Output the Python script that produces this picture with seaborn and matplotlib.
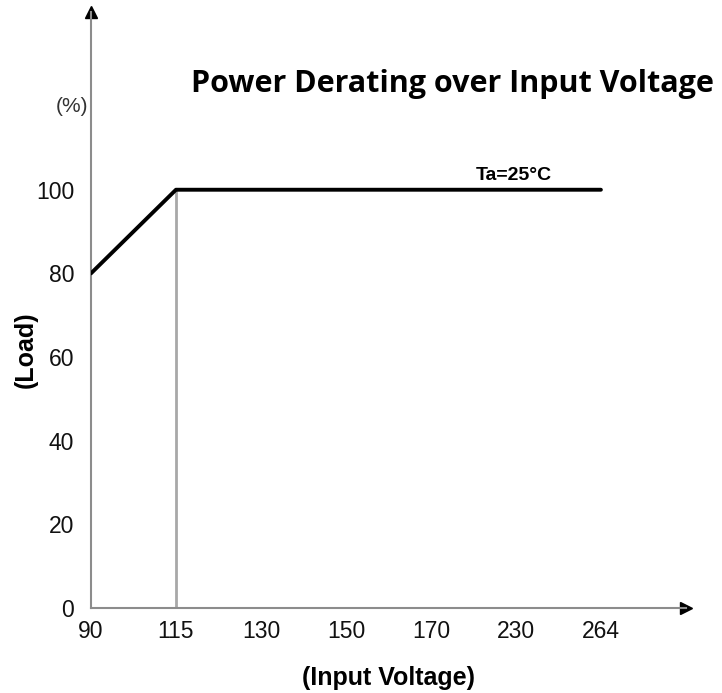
import matplotlib
matplotlib.use("Agg")
from matplotlib import pyplot as plt
import seaborn as sns
import pandas as pd
import numpy as np

voltage = ["90", "115", "130", "150", "170", "230", "264"]
load = [80, 100, 100, 100, 100, 100, 100]
y_ticks = [0, 20, 40, 60, 80, 100]

sns.set_style("white")
plt.rcParams['font.family'] = ['Liberation Sans', 'DejaVu Sans']

df = pd.DataFrame({"pos": np.arange(len(voltage)), "load": load})

fig = plt.figure(figsize=(7.22, 6.93), dpi=100)
ax = fig.add_axes([0.126, 0.1227, 0.824, 0.86])

# gray drop line at 115V
ax.vlines(1, 0, 100, color="#a8a8a8", lw=2, zorder=1)
sns.lineplot(data=df, x="pos", y="load", color="black", lw=2.8, ax=ax, zorder=3)

ax.set_xlim(0, 7.0)
ax.set_ylim(0, 142.5)
ax.set_xticks(df["pos"])
ax.set_xticklabels(voltage)
ax.set_yticks(y_ticks)
ax.tick_params(axis="both", length=0, labelsize=16.5, colors="#111111")
ax.tick_params(axis="x", pad=9)
ax.tick_params(axis="y", pad=12)

for s in ["top", "right"]:
    ax.spines[s].set_visible(False)
for s in ["left", "bottom"]:
    ax.spines[s].set_color("#8c8c8c")
    ax.spines[s].set_linewidth(1.5)

# arrow heads
ax.plot(1, 0, ">", color="black", markersize=8, transform=ax.transAxes, clip_on=False)
ax.plot(0, 1, "^", color="black", markersize=8, transform=ax.transAxes, clip_on=False)

ax.set_xlabel("(Input Voltage)", fontsize=18, fontweight="bold", color="black")
ax.set_ylabel("(Load)", fontsize=18, fontweight="bold", color="black")
ax.xaxis.set_label_coords(0.5, -0.098)
ax.yaxis.set_label_coords(-0.09, 0.433)

ax.text(-0.005, 120, "(%)", fontsize=15, color="#333333", ha="right", va="center",
        transform=ax.get_yaxis_transform())
ax.text(4.98, 101.3, "Ta=25°C", fontsize=14, fontweight="bold", ha="center", va="bottom",
        color="black")

fig.text(0.626, 0.879, "Power Derating over Input Voltage", fontsize=22, fontweight="bold",
         family=["Open Sans", "DejaVu Sans"], ha="center", va="center", color="black")

plt.savefig("out.png", dpi=100)
